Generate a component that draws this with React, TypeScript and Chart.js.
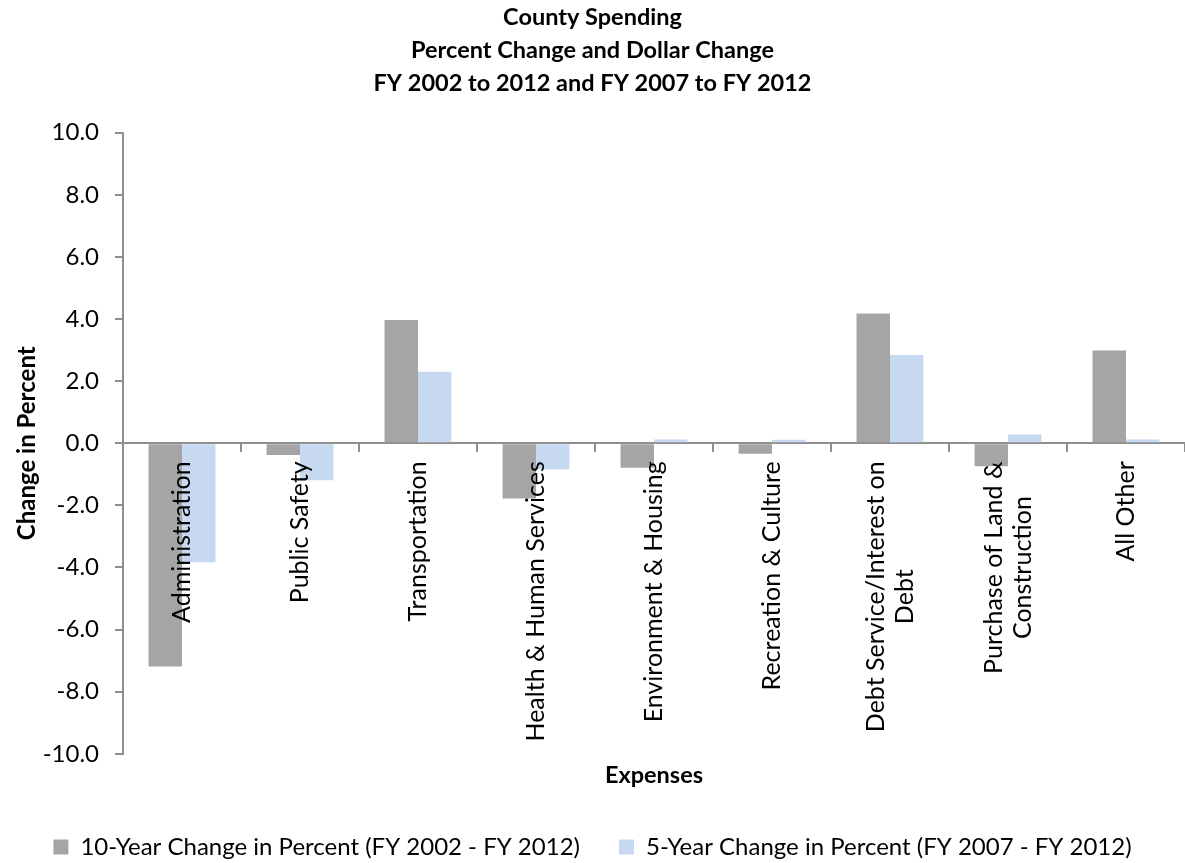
import React, { useEffect, useRef } from "react";
import { Chart, registerables } from "chart.js";

Chart.register(...registerables);

const categories: (string | string[])[] = [
  "Administration",
  "Public Safety",
  "Transportation",
  "Health & Human Services",
  "Environment & Housing",
  "Recreation & Culture",
  ["Debt Service/Interest on", "Debt"],
  ["Purchase of Land &", "Construction"],
  "All Other",
];

const tenYearChange = [-7.19, -0.38, 3.97, -1.78, -0.79, -0.34, 4.18, -0.74, 2.99];
const fiveYearChange = [-3.83, -1.19, 2.3, -0.84, 0.12, 0.11, 2.84, 0.28, 0.12];

const seriesNames = [
  "10-Year Change in Percent (FY 2002 - FY 2012)",
  "5-Year Change in Percent (FY 2007 - FY 2012)",
];

const titleLines = [
  "County Spending",
  "Percent Change and Dollar Change",
  "FY 2002 to 2012 and FY 2007 to FY 2012",
];

const FONT = "Lato";
const AXIS_COLOR = "#8f8f8f";

const categoryLabelPlugin = {
  id: "categoryLabels",
  afterDatasetsDraw(chart: any) {
    const { ctx, scales } = chart;
    const xs = scales.x;
    const ys = scales.y;
    const labels = chart.data.labels as (string | string[])[];
    const top = ys.getPixelForValue(0) + 18;
    ctx.save();
    ctx.font = `25px ${FONT}`;
    ctx.fillStyle = "#000";
    ctx.textBaseline = "middle";
    ctx.textAlign = "center";
    labels.forEach((lab, i) => {
      const lines = Array.isArray(lab) ? lab : [lab];
      const maxW = Math.max(...lines.map((l) => ctx.measureText(l).width));
      const cx = xs.getPixelForValue(i);
      ctx.save();
      ctx.translate(cx, top);
      ctx.rotate(-Math.PI / 2);
      lines.forEach((l, j) => {
        ctx.fillText(l, -maxW / 2, (j - (lines.length - 1) / 2) * 29);
      });
      ctx.restore();
    });
    ctx.restore();
  },
};

export default function App() {
  const ref = useRef<HTMLCanvasElement | null>(null);

  useEffect(() => {
    if (!ref.current) return;
    const chart = new Chart(ref.current, {
      type: "bar",
      data: {
        labels: categories as any,
        datasets: [
          {
            label: seriesNames[0],
            data: tenYearChange,
            backgroundColor: "#A5A5A5",
            categoryPercentage: 0.567,
            barPercentage: 1.0,
          },
          {
            label: seriesNames[1],
            data: fiveYearChange,
            backgroundColor: "#C6D9F1",
            categoryPercentage: 0.567,
            barPercentage: 1.0,
          },
        ],
      },
      options: {
        animation: false,
        responsive: false,
        devicePixelRatio: 1,
        layout: { padding: { left: 0, right: 0, top: 0, bottom: -6 } },
        plugins: {
          title: {
            display: true,
            text: titleLines,
            color: "#000",
            font: { family: FONT, size: 23.5, weight: "bold", lineHeight: 1.4 },
            padding: { top: 1, bottom: 33 },
          },
          legend: {
            position: "bottom",
            labels: {
              color: "#000",
              font: { family: FONT, size: 24 },
              boxWidth: 15,
              boxHeight: 15,
              padding: 39,
            },
          },
          tooltip: { enabled: false },
        },
        scales: {
          x: {
            type: "category",
            position: { y: 0 } as any,
            ticks: { display: false },
            grid: {
              offset: true,
              drawOnChartArea: false,
              drawTicks: true,
              tickLength: 8,
              color: AXIS_COLOR,
              lineWidth: 2,
            },
            border: { display: true, color: AXIS_COLOR, width: 2 },
          },
          x2: {
            type: "category",
            position: "bottom",
            ticks: { display: false },
            grid: { display: false, drawTicks: false },
            border: { display: false },
            title: {
              display: true,
              text: "Expenses",
              color: "#000",
              font: { family: FONT, size: 23.5, weight: "bold", lineHeight: 1.2 },
              padding: { top: 8, bottom: 6 },
            },
          },
          y: {
            min: -10,
            max: 10,
            ticks: {
              stepSize: 2,
              color: "#000",
              padding: 16,
              font: { family: FONT, size: 24 },
              callback: (v: any) => Number(v).toFixed(1),
            },
            grid: {
              drawOnChartArea: false,
              drawTicks: true,
              tickLength: 8,
              color: AXIS_COLOR,
              lineWidth: 2,
            },
            border: { display: true, color: AXIS_COLOR, width: 2 },
            title: {
              display: true,
              text: "Change in Percent",
              color: "#000",
              font: { family: FONT, size: 24, weight: "bold", lineHeight: 1.2 },
              padding: { top: 13, bottom: 0 },
            },
            afterFit: (scale: any) => {
              scale.width = 123;
            },
          },
        },
      },
      plugins: [categoryLabelPlugin],
    });
    return () => chart.destroy();
  }, []);

  return (
    <div style={{ position: "absolute", left: 0, top: 0, width: 1185, height: 863, background: "#fff" }}>
      <canvas ref={ref} width={1185} height={863} />
    </div>
  );
}
